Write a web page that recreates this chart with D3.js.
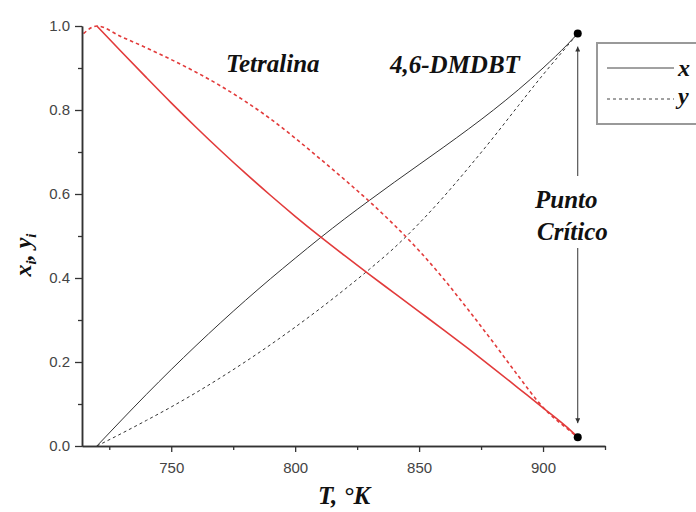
<!DOCTYPE html>
<html>
<head>
<meta charset="utf-8">
<script src="https://cdn.jsdelivr.net/npm/d3@7"></script>
<style>
  html, body { margin: 0; padding: 0; background: #fff; }
  svg { display: block; }
  .serif { font-family: "Liberation Serif", "Times New Roman", serif; font-weight: bold; font-style: italic; fill: #111; }
</style>
</head>
<body>
<svg id="chart" width="696" height="512"></svg>
<script>
// Temperature grid (K) for every curve
const temps = [720, 730, 740, 750, 760, 770, 780, 790, 800, 810, 820, 830, 840, 850, 860, 870, 880, 890, 900, 910, 914];

// 4,6-DMDBT: liquid (x) and vapour (y) mole fractions
const dmdbtX = [0.000, 0.062, 0.123, 0.182, 0.239, 0.294, 0.347, 0.398, 0.447, 0.495, 0.541, 0.585, 0.628, 0.670, 0.712, 0.755, 0.800, 0.848, 0.900, 0.957, 0.982];
const dmdbtY = [0.000, 0.030, 0.061, 0.093, 0.127, 0.163, 0.201, 0.241, 0.283, 0.327, 0.373, 0.421, 0.472, 0.530, 0.594, 0.663, 0.735, 0.810, 0.884, 0.954, 0.982];

// Tetralina: liquid (x) and vapour (y) mole fractions
const tetrX = [1.000, 0.938, 0.877, 0.817, 0.759, 0.703, 0.649, 0.597, 0.547, 0.499, 0.453, 0.408, 0.364, 0.320, 0.276, 0.231, 0.185, 0.138, 0.091, 0.043, 0.021];
const tetrYTemps = [714.6, 720, 730, 740, 750, 760, 770, 780, 790, 800, 810, 820, 830, 840, 850, 860, 870, 880, 890, 900, 910, 914];
const tetrY = [0.982, 1.000, 0.974, 0.948, 0.920, 0.890, 0.857, 0.820, 0.779, 0.733, 0.684, 0.634, 0.582, 0.526, 0.465, 0.397, 0.323, 0.246, 0.167, 0.092, 0.040, 0.021];

// Critical point (temperature, upper and lower composition)
const critT = 914;
const critVals = [0.982, 0.021];

// Axis ticks
const xMajor = [750, 800, 850, 900];
const xMinor = [725, 775, 825, 875, 925];
const yMajor = [0.0, 0.2, 0.4, 0.6, 0.8, 1.0];
const yMinor = [0.1, 0.3, 0.5, 0.7, 0.9];

const svg = d3.select("#chart");
const plotL = 82, plotR = 605, plotT = 26, plotB = 446;

const x = d3.scaleLinear().domain([714, 925]).range([plotL, plotR]);
const y = d3.scaleLinear().domain([0, 1]).range([plotB, plotT]);

const RED = "#e23b3b";
const line = d3.line().x(d => x(d[0])).y(d => y(d[1])).curve(d3.curveMonotoneX);

function series(ts, vs) { return ts.map((t, i) => [t, vs[i]]); }

// Curves
svg.append("path").attr("d", line(series(temps, dmdbtX)))
  .attr("fill", "none").attr("stroke", "#333").attr("stroke-width", 1);
svg.append("path").attr("d", line(series(temps, dmdbtY)))
  .attr("fill", "none").attr("stroke", "#333").attr("stroke-width", 1)
  .attr("stroke-dasharray", "3,3");
svg.append("path").attr("d", line(series(temps, tetrX)))
  .attr("fill", "none").attr("stroke", RED).attr("stroke-width", 1.6);
svg.append("path").attr("d", line(series(tetrYTemps, tetrY)))
  .attr("fill", "none").attr("stroke", RED).attr("stroke-width", 1.6)
  .attr("stroke-dasharray", "3.5,3");

// Axes
function styleAxis(g) {
  g.select(".domain").attr("stroke", "#333").attr("stroke-width", 1.5);
  g.selectAll(".tick line").attr("stroke", "#333").attr("stroke-width", 1.3);
  g.selectAll(".tick text").attr("fill", "#444")
    .style("font-family", "'Liberation Sans', Arial, sans-serif").style("font-size", "15px");
}
svg.append("g").attr("transform", `translate(0,${plotB})`)
  .call(d3.axisBottom(x).tickValues(xMinor).tickSize(4).tickFormat("").tickSizeOuter(0))
  .call(styleAxis);
svg.append("g").attr("transform", `translate(0,${plotB})`)
  .call(d3.axisBottom(x).tickValues(xMajor).tickSize(6).tickPadding(10).tickFormat(d3.format("d")).tickSizeOuter(0))
  .call(styleAxis);
svg.append("g").attr("transform", `translate(${plotL},0)`)
  .call(d3.axisLeft(y).tickValues(yMinor).tickSize(4).tickFormat("").tickSizeOuter(0))
  .call(styleAxis);
svg.append("g").attr("transform", `translate(${plotL},0)`)
  .call(d3.axisLeft(y).tickValues(yMajor).tickSize(7).tickPadding(5).tickFormat(d3.format(".1f")).tickSizeOuter(0))
  .call(styleAxis);

// Critical point markers and arrows
svg.selectAll("circle.crit").data(critVals).enter().append("circle")
  .attr("class", "crit").attr("cx", x(critT)).attr("cy", d => y(d)).attr("r", 4).attr("fill", "#000");

const defs = svg.append("defs");
defs.append("marker").attr("id", "arrow").attr("viewBox", "0 0 10 10")
  .attr("refX", 10).attr("refY", 5).attr("markerWidth", 5).attr("markerHeight", 5)
  .attr("markerUnits", "userSpaceOnUse").attr("orient", "auto")
  .append("path").attr("d", "M0,0 L10,5 L0,10 z").attr("fill", "#333");
const ax = x(critT);
svg.append("line").attr("x1", ax).attr("x2", ax).attr("y1", 176).attr("y2", y(critVals[0]) + 13)
  .attr("stroke", "#333").attr("stroke-width", 1).attr("marker-end", "url(#arrow)");
svg.append("line").attr("x1", ax).attr("x2", ax).attr("y1", 248).attr("y2", y(critVals[1]) - 14)
  .attr("stroke", "#333").attr("stroke-width", 1).attr("marker-end", "url(#arrow)");

// Annotations
svg.append("text").attr("class", "serif").attr("x", 226).attr("y", 72).style("font-size", "25px").text("Tetralina");
svg.append("text").attr("class", "serif").attr("x", 390).attr("y", 73).style("font-size", "25px").text("4,6-DMDBT");
svg.append("text").attr("class", "serif").attr("x", 535).attr("y", 208).style("font-size", "25px").text("Punto");
svg.append("text").attr("class", "serif").attr("x", 537).attr("y", 240).style("font-size", "25px").text("Crítico");

// Axis titles
svg.append("text").attr("class", "serif").attr("x", 318).attr("y", 504).style("font-size", "25px").text("T, °K");
const yt = svg.append("text").attr("class", "serif").style("font-size", "24px")
  .attr("text-anchor", "middle").attr("transform", "translate(31,255) rotate(-90)");
yt.append("tspan").text("x");
yt.append("tspan").attr("dy", 5).style("font-size", "15px").text("i");
yt.append("tspan").attr("dy", -5).text(", y");
yt.append("tspan").attr("dy", 5).style("font-size", "15px").text("i");

// Legend
const lg = svg.append("g");
lg.append("rect").attr("x", 597).attr("y", 43).attr("width", 120).attr("height", 81)
  .attr("fill", "#fff").attr("stroke", "#999").attr("stroke-width", 2);
lg.append("line").attr("x1", 607).attr("x2", 674).attr("y1", 68).attr("y2", 68)
  .attr("stroke", "#444").attr("stroke-width", 1);
lg.append("line").attr("x1", 607).attr("x2", 674).attr("y1", 99).attr("y2", 99)
  .attr("stroke", "#444").attr("stroke-width", 1).attr("stroke-dasharray", "3,3");
lg.append("text").attr("class", "serif").attr("x", 678).attr("y", 76).style("font-size", "24px").text("x");
lg.append("text").attr("class", "serif").attr("x", 678).attr("y", 104).style("font-size", "24px").text("y");
</script>
</body>
</html>
